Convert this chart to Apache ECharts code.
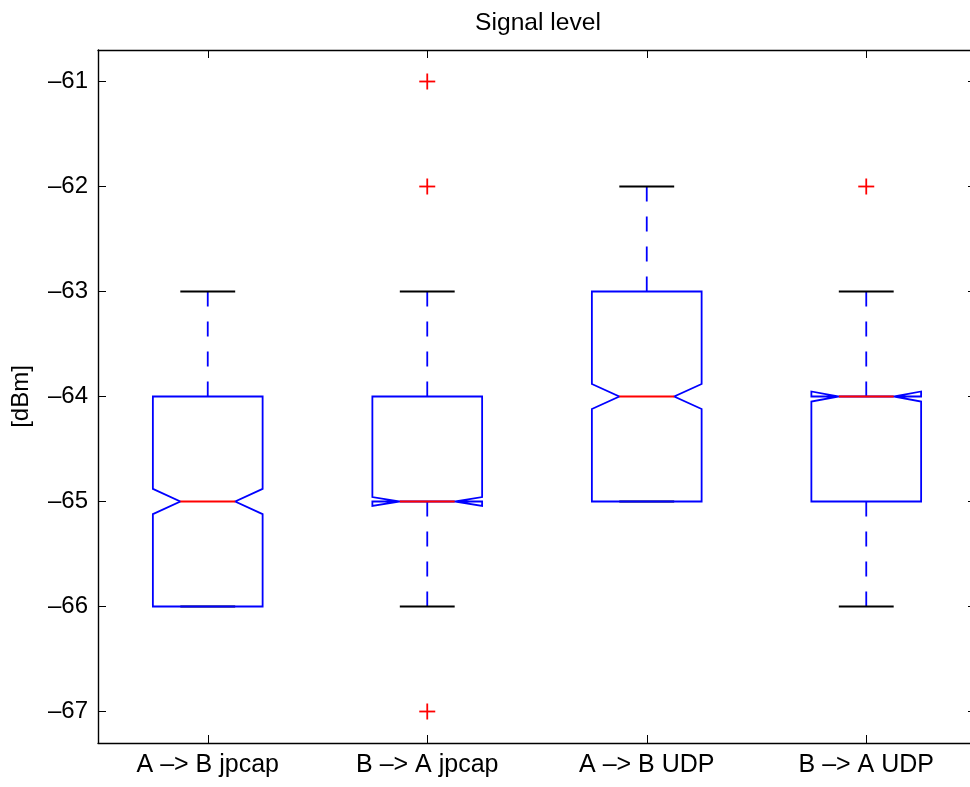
<!DOCTYPE html>
<html>
<head>
<meta charset="utf-8">
<script src="https://cdn.jsdelivr.net/npm/echarts@6/dist/echarts.min.js"></script>
<style>
html,body{margin:0;padding:0;background:#fff;}
#chart{width:970px;height:787px;}
</style>
</head>
<body>
<div id="chart"></div>
<script>
// ---- data ----
const categories = ['A \u2013> B jpcap', 'B \u2013> A jpcap', 'A \u2013> B UDP', 'B \u2013> A UDP'];
const whiskerLow  = [-66, -66, -65, -66];
const q1          = [-66, -65, -65, -65];
const median      = [-65, -65, -64, -64];
const q3          = [-64, -64, -63, -64];
const whiskerHigh = [-63, -63, -62, -63];
const notchLow    = [-65.12, -65.042, -64.119, -64.048];
const notchHigh   = [-64.88, -64.958, -63.881, -63.952];
const outlierCat  = [1, 1, 1, 3];
const outlierVal  = [-61, -62, -67, -62];
const yTicks      = [-67, -66, -65, -64, -63, -62, -61];
const titleText   = 'Signal level';
const yName       = '[dBm]';

const FONT = '"Liberation Sans", Arial, Helvetica, sans-serif';
const BLUE = '#0000ff', RED = '#ff0000', BLACK = '#000000';

const boxData = categories.map((c, i) =>
  [i, whiskerLow[i], q1[i], notchLow[i], median[i], notchHigh[i], q3[i], whiskerHigh[i]]);
const outData = outlierCat.map((c, i) => [c, outlierVal[i]]);

const fmt = v => (v < 0 ? '\u2013' + Math.abs(v) : String(v));

const chart = echarts.init(document.getElementById('chart'), null, {renderer: 'canvas'});

function renderBox(params, api) {
  const i = api.value(0);
  const wl = api.value(1), lq = api.value(2), nlo = api.value(3), md = api.value(4),
        nhi = api.value(5), uq = api.value(6), wh = api.value(7);
  const band = api.size([1, 0])[0];
  const cx = api.coord([i, md])[0];
  const y = v => api.coord([i, v])[1];
  const bw = band * 0.25, cw = band * 0.125;
  const lw = 1.8;
  const children = [];
  if (wh > uq) {
    children.push({type: 'line', shape: {x1: cx, y1: y(uq), x2: cx, y2: y(wh)},
      style: {stroke: BLUE, lineWidth: lw, lineDash: [15, 15]}});
  }
  if (wl < lq) {
    children.push({type: 'line', shape: {x1: cx, y1: y(lq), x2: cx, y2: y(wl)},
      style: {stroke: BLUE, lineWidth: lw, lineDash: [15, 15]}});
  }
  children.push({type: 'line', shape: {x1: cx - cw, y1: y(wh), x2: cx + cw, y2: y(wh)},
    style: {stroke: BLACK, lineWidth: lw}});
  children.push({type: 'line', shape: {x1: cx - cw, y1: y(wl), x2: cx + cw, y2: y(wl)},
    style: {stroke: BLACK, lineWidth: lw}});
  const pts = [
    [cx - bw, y(lq)], [cx - bw, y(nlo)], [cx - cw, y(md)], [cx - bw, y(nhi)], [cx - bw, y(uq)],
    [cx + bw, y(uq)], [cx + bw, y(nhi)], [cx + cw, y(md)], [cx + bw, y(nlo)], [cx + bw, y(lq)]
  ];
  children.push({type: 'polygon', shape: {points: pts},
    style: {stroke: BLUE, fill: null, lineWidth: lw}});
  children.push({type: 'line', shape: {x1: cx - cw, y1: y(md), x2: cx + cw, y2: y(md)},
    style: {stroke: RED, lineWidth: lw}});
  return {type: 'group', children: children};
}

function renderOut(params, api) {
  const p = api.coord([api.value(0), api.value(1)]);
  const h = 8;
  return {type: 'group', children: [
    {type: 'line', shape: {x1: p[0] - h, y1: p[1], x2: p[0] + h, y2: p[1]}, style: {stroke: RED, lineWidth: 1.8}},
    {type: 'line', shape: {x1: p[0], y1: p[1] - h, x2: p[0], y2: p[1] + h}, style: {stroke: RED, lineWidth: 1.8}}
  ]};
}

const axisLineStyle = {show: true, lineStyle: {color: BLACK, width: 1.4}};

chart.setOption({
  animation: false,
  backgroundColor: '#fff',
  title: {
    text: titleText, left: 533, top: 6, textAlign: 'center',
    textStyle: {fontFamily: FONT, fontSize: 24.6, fontWeight: 'normal', color: BLACK}
  },
  grid: {left: 98, top: 50, width: 878, height: 693, containLabel: false, outerBoundsMode: 'none'},
  xAxis: [
    {type: 'category', data: categories, position: 'bottom', boundaryGap: true,
      axisLine: axisLineStyle,
      axisTick: {show: true, inside: true, length: 8, alignWithLabel: true, lineStyle: {color: BLACK, width: 1}},
      axisLabel: {margin: 10, fontFamily: FONT, fontSize: 25, color: BLACK, interval: 0},
      splitLine: {show: false}},
    {type: 'category', data: categories, position: 'top', boundaryGap: true,
      axisLine: axisLineStyle,
      axisTick: {show: true, inside: true, length: 8, alignWithLabel: true, lineStyle: {color: BLACK, width: 1}},
      axisLabel: {show: false}, splitLine: {show: false}}
  ],
  yAxis: [
    {type: 'value', min: -67.3, max: -60.7, position: 'left',
      name: yName, nameLocation: 'middle', nameGap: 65, nameRotate: 90,
      nameTextStyle: {fontFamily: FONT, fontSize: 24, color: BLACK},
      axisLine: axisLineStyle,
      axisTick: {show: true, inside: true, length: 8, customValues: yTicks, lineStyle: {color: BLACK, width: 1}},
      axisLabel: {customValues: yTicks, formatter: fmt, margin: 10, fontFamily: FONT, fontSize: 24, color: BLACK},
      splitLine: {show: false}},
    {type: 'value', min: -67.3, max: -60.7, position: 'right',
      axisLine: axisLineStyle,
      axisTick: {show: true, inside: true, length: 8, customValues: yTicks, lineStyle: {color: BLACK, width: 1}},
      axisLabel: {show: false}, splitLine: {show: false}}
  ],
  series: [
    {type: 'custom', name: 'box', xAxisIndex: 0, yAxisIndex: 0, renderItem: renderBox,
      encode: {x: 0, y: [1, 2, 3, 4, 5, 6, 7]}, data: boxData, clip: false, silent: true},
    {type: 'custom', name: 'outliers', xAxisIndex: 0, yAxisIndex: 0, renderItem: renderOut,
      encode: {x: 0, y: 1}, data: outData, clip: false, silent: true}
  ]
});
</script>
</body>
</html>
